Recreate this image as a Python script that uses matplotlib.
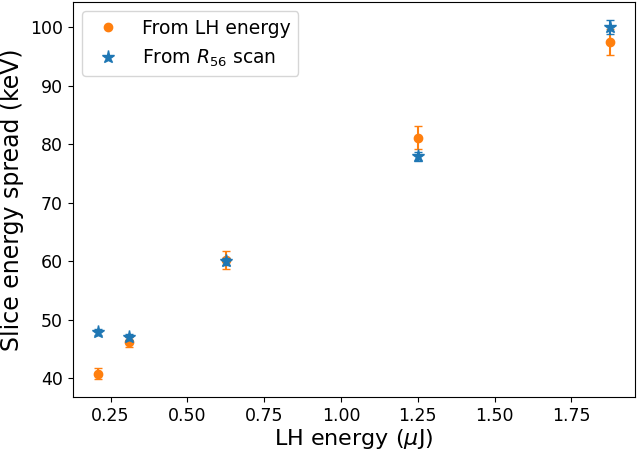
import matplotlib
matplotlib.use("Agg")
import matplotlib.pyplot as plt

lh_energy = [0.21, 0.31, 0.625, 1.25, 1.875]
spread_lh = [40.8, 46.2, 60.2, 81.1, 97.4]
err_lh = [0.9, 0.8, 1.5, 2.0, 2.2]
spread_r56 = [48.0, 47.1, 60.0, 77.9, 100.0]
err_r56 = [0.5, 0.5, 0.6, 0.8, 1.2]

plt.rcParams['font.size'] = 12.5
fig = plt.figure(figsize=(6.4, 4.55), dpi=100)
ax = fig.add_axes([0.1136, 0.1275, 0.879, 0.868])

ax.errorbar(lh_energy, spread_lh, yerr=err_lh, fmt='none', ecolor='C1', capsize=3)
ax.plot(lh_energy, spread_lh, 'o', color='C1', label='From LH energy')
ax.errorbar(lh_energy, spread_r56, yerr=err_r56, fmt='none', ecolor='C0', capsize=3)
ax.plot(lh_energy, spread_r56, '*', color='C0', markersize=9.5, label='From $R_{56}$ scan')

ax.set_xticks([0.25, 0.5, 0.75, 1.0, 1.25, 1.5, 1.75])
ax.set_xlabel(r'LH energy ($\mu$J)', fontsize=16, labelpad=2)
ax.set_ylabel('Slice energy spread (keV)', fontsize=17)
ax.legend(loc='upper left', fontsize=13.5)

fig.savefig('out.png', dpi=100)
